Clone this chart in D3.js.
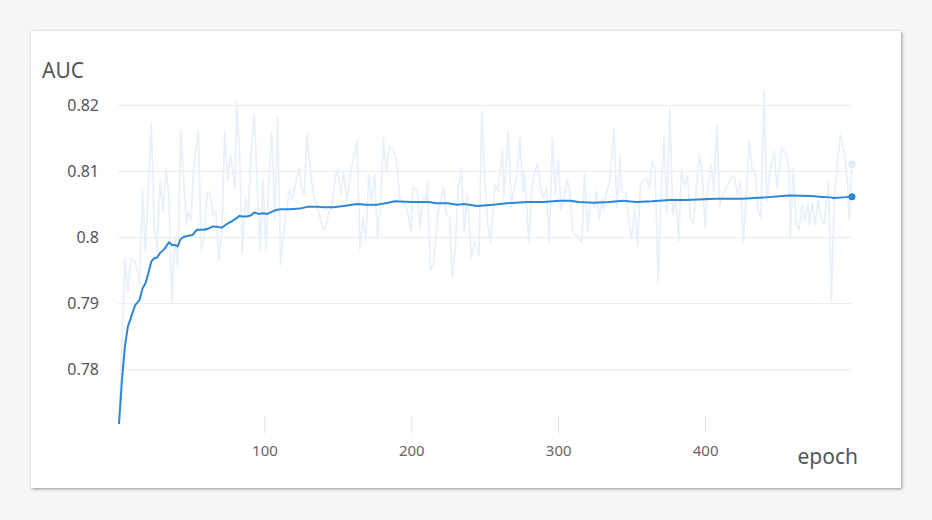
<!DOCTYPE html>
<html>
<head>
<meta charset="utf-8">
<script src="https://cdn.jsdelivr.net/npm/d3@7"></script>
<style>
  body { margin: 0; background: #f6f6f6; font-family: "Noto Sans", sans-serif; }
  #card {
    position: absolute; left: 31px; top: 31px; width: 870px; height: 457px;
    background: #fff; box-shadow: 1px 1px 3px rgba(0,0,0,0.4);
  }
  svg { position: absolute; left: 0; top: 0; }
</style>
</head>
<body>
<div id="card"></div>
<div id="chart"></div>
<script>
// raw AUC per epoch (light line)
const rawEpochs = [
  1, 3, 5, 7, 9, 12, 15, 17, 19, 23,
  25, 27, 29, 31, 33, 35, 37, 39, 41, 43,
  45, 47, 48, 50, 52, 55, 57, 59, 61, 63,
  65, 67, 69, 71, 73, 75, 77, 78, 80, 81,
  83, 85, 87, 89, 91, 93, 95, 97, 99, 101,
  103, 105, 107, 109, 111, 114, 116, 117, 119, 122,
  124, 125, 127, 129, 132, 134, 137, 139, 141, 144,
  146, 148, 150, 152, 154, 156, 159, 163, 165, 167,
  169, 171, 173, 175, 177, 179, 181, 183, 185, 188,
  190, 192, 194, 197, 200, 201, 204, 206, 208, 210,
  211, 213, 215, 218, 220, 222, 224, 226, 228, 230,
  232, 234, 236, 238, 241, 243, 246, 248, 250, 252,
  254, 256, 257, 259, 262, 263, 266, 268, 270, 272,
  274, 276, 277, 280, 282, 284, 286, 288, 290, 292,
  294, 296, 298, 300, 302, 304, 306, 308, 310, 313,
  316, 318, 320, 322, 325, 326, 328, 330, 331, 333,
  335, 338, 340, 342, 343, 346, 348, 350, 352, 354,
  356, 358, 360, 362, 364, 366, 368, 370, 372, 374,
  376, 378, 380, 382, 384, 386, 388, 390, 392, 396,
  398, 400, 402, 404, 406, 408, 410, 412, 415, 418,
  420, 422, 424, 426, 428, 430, 432, 434, 436, 438,
  440, 442, 444, 447, 449, 452, 455, 457, 458, 460,
  462, 464, 466, 468, 470, 471, 473, 475, 477, 479,
  481, 483, 484, 486, 488, 490, 492, 495, 497, 498,
  500
];
const rawAuc = [
  0.7717, 0.7834, 0.7968, 0.7917, 0.7968, 0.7963, 0.7930, 0.8071, 0.7978, 0.8172,
  0.8016, 0.7980, 0.8086, 0.8038, 0.8104, 0.8061, 0.7902, 0.8000, 0.7955, 0.8160,
  0.8086, 0.8018, 0.8038, 0.8026, 0.8109, 0.8160, 0.7980, 0.7998, 0.8069, 0.8066,
  0.8033, 0.8038, 0.7963, 0.8011, 0.8160, 0.8086, 0.8124, 0.8107, 0.8074, 0.8203,
  0.8132, 0.7975, 0.8059, 0.8038, 0.8132, 0.8185, 0.8084, 0.7980, 0.8086, 0.7980,
  0.8081, 0.8160, 0.8026, 0.8180, 0.7958, 0.8026, 0.8056, 0.8071, 0.8056, 0.8091,
  0.8104, 0.8076, 0.8064, 0.8155, 0.8086, 0.8059, 0.8038, 0.8018, 0.8011, 0.8036,
  0.8046, 0.8091, 0.8102, 0.8064, 0.8097, 0.8054, 0.8100, 0.8145, 0.7981, 0.8029,
  0.7993, 0.8094, 0.8054, 0.8094, 0.7998, 0.8049, 0.8150, 0.8097, 0.8137, 0.8130,
  0.8115, 0.8059, 0.8054, 0.8044, 0.8009, 0.8077, 0.8069, 0.8014, 0.8062, 0.8057,
  0.8082, 0.7950, 0.7958, 0.8034, 0.8054, 0.8074, 0.8034, 0.8031, 0.7938, 0.7988,
  0.8074, 0.8105, 0.8009, 0.8064, 0.7968, 0.7993, 0.7973, 0.8190, 0.8089, 0.8019,
  0.7993, 0.8049, 0.8079, 0.8069, 0.8132, 0.8059, 0.8160, 0.8044, 0.8074, 0.8094,
  0.8150, 0.8069, 0.8097, 0.7991, 0.8074, 0.8100, 0.8110, 0.8074, 0.8059, 0.8074,
  0.7991, 0.8150, 0.8064, 0.8117, 0.8041, 0.8059, 0.8087, 0.8069, 0.8006, 0.8001,
  0.7993, 0.8097, 0.8009, 0.8054, 0.8044, 0.8069, 0.8026, 0.8059, 0.8041, 0.8069,
  0.8084, 0.8165, 0.8044, 0.8122, 0.8069, 0.8067, 0.8024, 0.7996, 0.8044, 0.7986,
  0.8079, 0.8087, 0.8089, 0.8074, 0.8115, 0.8102, 0.7933, 0.8064, 0.8153, 0.8036,
  0.8195, 0.8034, 0.8059, 0.7993, 0.8102, 0.8077, 0.8092, 0.8029, 0.8021, 0.8125,
  0.8094, 0.8014, 0.8079, 0.8110, 0.8069, 0.8168, 0.8047, 0.8064, 0.8077, 0.8089,
  0.8092, 0.8064, 0.8084, 0.7991, 0.8062, 0.8145, 0.8102, 0.8100, 0.8041, 0.8029,
  0.8221, 0.8054, 0.8097, 0.8130, 0.8074, 0.8135, 0.8127, 0.8105, 0.8001, 0.8105,
  0.8019, 0.8011, 0.8049, 0.8024, 0.8052, 0.8019, 0.8052, 0.8019, 0.8054, 0.8026,
  0.8019, 0.8064, 0.8082, 0.7903, 0.8064, 0.8110, 0.8155, 0.8125, 0.8079, 0.8026,
  0.8110
];

// smoothed AUC (dark line)
const smoothEpochs = [
  1, 3, 5, 7, 10, 12, 15, 17, 19, 21,
  23, 25, 27, 29, 32, 34, 35, 37, 39, 41,
  43, 45, 48, 51, 54, 56, 59, 62, 65, 69,
  71, 74, 78, 80, 83, 85, 88, 91, 93, 96,
  99, 102, 105, 108, 111, 117, 124, 130, 136, 140,
  147, 154, 163, 169, 177, 184, 189, 200, 212, 217,
  225, 231, 236, 245, 256, 265, 279, 290, 301, 308,
  314, 324, 335, 344, 353, 364, 376, 387, 407, 425,
  441, 457, 472, 478, 485, 488, 494, 500
];
const smoothAuc = [
  0.7717, 0.7783, 0.7834, 0.7864, 0.7884, 0.7897, 0.7905, 0.7922, 0.7930, 0.7945,
  0.7963, 0.7968, 0.7969, 0.7976, 0.7982, 0.7989, 0.7992, 0.7988, 0.7988, 0.7986,
  0.7997, 0.8000, 0.8002, 0.8003, 0.8011, 0.8011, 0.8011, 0.8013, 0.8016, 0.8015,
  0.8014, 0.8019, 0.8024, 0.8027, 0.8032, 0.8031, 0.8031, 0.8033, 0.8037, 0.8035,
  0.8036, 0.8035, 0.8038, 0.8041, 0.8042, 0.8042, 0.8043, 0.8046, 0.8046, 0.8045,
  0.8045, 0.8047, 0.8050, 0.8049, 0.8049, 0.8052, 0.8054, 0.8053, 0.8053, 0.8051,
  0.8051, 0.8049, 0.8050, 0.8047, 0.8049, 0.8051, 0.8053, 0.8053, 0.8055, 0.8055,
  0.8053, 0.8052, 0.8053, 0.8055, 0.8053, 0.8054, 0.8056, 0.8056, 0.8058, 0.8058,
  0.8060, 0.8063, 0.8062, 0.8061, 0.8060, 0.8059, 0.8060, 0.8061
];

const xTicks = [100, 200, 300, 400];
const yTicks = [0.78, 0.79, 0.8, 0.81, 0.82];
const yTickLabels = ["0.78", "0.79", "0.8", "0.81", "0.82"];

const raw = rawEpochs.map((e, i) => ({ epoch: e, auc: rawAuc[i] }));
const smooth = smoothEpochs.map((e, i) => ({ epoch: e, auc: smoothAuc[i] }));

// dimensions
const W = 932, H = 520;
const plot = { left: 119, right: 852, top: 91, bottom: 424 };

const svg = d3.select("#chart").append("svg")
  .attr("width", W)
  .attr("height", H);

// scales
const x = d3.scaleLinear()
  .domain([1, 500])
  .range([plot.left, plot.right]);

const y = d3.scaleLinear()
  .domain(d3.extent(rawAuc.concat(smoothAuc)))
  .range([plot.bottom, plot.top]);

// y grid + labels
const yAxis = d3.axisLeft(y)
  .tickValues(yTicks)
  .tickFormat((d, i) => yTickLabels[i])
  .tickSize(-(plot.right - plot.left + 1))
  .tickPadding(19);

const gy = svg.append("g")
  .attr("transform", `translate(${plot.left - 1},0)`)
  .call(yAxis);
gy.select(".domain").remove();
gy.selectAll(".tick line").attr("stroke", "#ececec");
gy.selectAll(".tick text")
  .attr("fill", "#555")
  .style("font-size", "16px")
  .style("font-family", "Noto Sans, sans-serif");

// x ticks
const xAxis = d3.axisBottom(x)
  .tickValues(xTicks)
  .tickSize(17)
  .tickPadding(12);

const gx = svg.append("g")
  .attr("transform", `translate(0,416)`)
  .call(xAxis);
gx.select(".domain").remove();
gx.selectAll(".tick line").attr("stroke", "#dddddd");
gx.selectAll(".tick text")
  .attr("fill", "#666")
  .style("font-size", "15px")
  .style("font-family", "Noto Sans, sans-serif");

// labels
svg.append("text")
  .attr("x", 42)
  .attr("y", 78)
  .attr("fill", "#555")
  .style("font-size", "21px")
  .text("AUC");

svg.append("text")
  .attr("x", 858)
  .attr("y", 464)
  .attr("text-anchor", "end")
  .attr("fill", "#555")
  .style("font-size", "21px")
  .text("epoch");

// lines
const line = d3.line()
  .x(d => x(d.epoch))
  .y(d => y(d.auc));

svg.append("path")
  .datum(raw)
  .attr("fill", "none")
  .attr("stroke", "#e8f1fb")
  .attr("stroke-width", 1.8)
  .attr("stroke-linejoin", "round")
  .attr("d", line);

svg.append("path")
  .datum(smooth)
  .attr("fill", "none")
  .attr("stroke", "#2e86d8")
  .attr("stroke-width", 2)
  .attr("stroke-linejoin", "round")
  .attr("d", line);

// end points
const lastRaw = raw[raw.length - 1];
const lastSmooth = smooth[smooth.length - 1];

svg.append("circle")
  .attr("cx", x(lastRaw.epoch))
  .attr("cy", y(lastRaw.auc))
  .attr("r", 3)
  .attr("fill", "#e4eef8")
  .attr("stroke", "#d2e1f0")
  .attr("stroke-width", 1);

svg.append("circle")
  .attr("cx", x(lastSmooth.epoch))
  .attr("cy", y(lastSmooth.auc))
  .attr("r", 3.5)
  .attr("fill", "#2e86d8");
</script>
</body>
</html>
